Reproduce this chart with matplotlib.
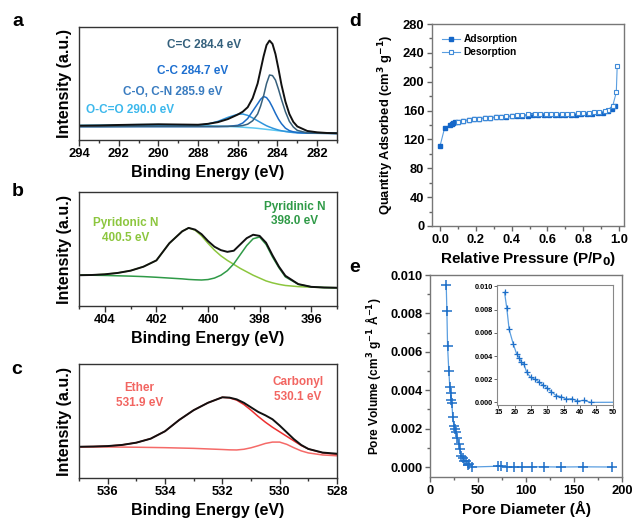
import numpy as np
import matplotlib
matplotlib.use("Agg")
import matplotlib.pyplot as plt
from matplotlib.ticker import MultipleLocator

plt.rcParams['font.family'] = ['Liberation Sans', 'DejaVu Sans']
plt.rcParams['font.weight'] = 'bold'
plt.rcParams['axes.labelweight'] = 'bold'
plt.rcParams['mathtext.default'] = 'bf'

# ---- C 1s (panel a) ----
e_c1s = [294, 293, 292, 291, 290, 289, 288, 287.5, 287, 286.5, 286, 285.75, 285.5,
         285.25, 285, 284.85, 284.7, 284.55, 284.4, 284.25, 284.1, 283.95, 283.8,
         283.6, 283.4, 283.2, 283, 282.5, 282, 281.5, 281]
c1s_total = [12.7, 12.9, 13.3, 13.6, 13.9, 13.7, 13.5, 14.3, 15.8, 18.5, 22.5, 25, 29,
             37, 50, 62, 74, 84, 88, 85, 76, 63, 49, 34, 23, 16, 12, 8, 6.8, 6.2, 6]
c1s_cc_sp2 = [11.8, 11.8, 11.9, 12, 12, 12, 12, 12, 12, 12.1, 12.3, 12.8, 14, 17, 23,
              30, 39, 50, 57.5, 57, 53, 45, 36, 25, 16.5, 11.5, 8.5, 6.3, 6, 5.9, 5.8]
c1s_cc_sp3 = [11.8, 11.8, 11.8, 11.8, 11.8, 11.8, 11.8, 11.8, 11.8, 12, 13, 15, 19,
              25.5, 32, 36, 38.5, 37.5, 34, 29, 23.5, 18.5, 14.5, 10.5, 8.3, 7.2, 6.6,
              6.1, 6, 5.9, 5.8]
c1s_co = [12.2, 12.3, 12.4, 12.5, 12.5, 12.5, 13, 14.2, 16.5, 20, 22.8, 23, 21.8, 19.5,
          17, 15.5, 14, 12.6, 11.5, 10.5, 9.6, 8.8, 8.2, 7.5, 7, 6.6, 6.3, 6, 5.9, 5.9, 5.8]
c1s_oco = [13, 13.2, 13.4, 13.6, 13.6, 13.4, 12.9, 12.6, 12.3, 12, 11.6, 11.3, 11, 10.7,
           10.3, 10, 9.7, 9.4, 9.1, 8.8, 8.5, 8.2, 8, 7.7, 7.4, 7.1, 6.9, 6.5, 6.2, 6, 5.9]

# ---- N 1s (panel b) ----
e_n1s = [405, 404.5, 404, 403.5, 403, 402.5, 402, 401.5, 401, 400.75, 400.5, 400.25,
         400, 399.75, 399.5, 399.25, 399, 398.75, 398.5, 398.25, 398, 397.75, 397.5,
         397.25, 397, 396.5, 396, 395.5, 395]
n1s_total = [27, 27.2, 27.8, 29, 31, 34.5, 40, 55, 65.5, 68.5, 67, 63, 57, 52, 49, 47.5,
             48.5, 54, 59.5, 62.5, 61.5, 55.5, 44.5, 34.5, 26.5, 19.2, 16.8, 16.2, 16]
n1s_pyridonic = [27, 27.2, 27.8, 29, 31, 34.5, 40, 55, 65.5, 68.5, 66.5, 61.5, 55, 49,
                 44, 40, 36.5, 33, 30, 27, 24.5, 22, 20.3, 19, 18, 17, 16.5, 16.2, 16]
n1s_pyridinic = [27, 27, 26.8, 26.5, 26.2, 25.8, 25.2, 24.5, 23.8, 23.3, 23, 22.8, 23.2,
                 24.5, 27, 31, 37, 45, 53, 59, 60.5, 54, 43, 33.5, 25.5, 19, 16.8, 16.2, 16]

# ---- O 1s (panel c) ----
e_o1s = [537, 536.5, 536, 535.5, 535, 534.5, 534, 533.5, 533, 532.5, 532, 531.75, 531.5,
         531.25, 531, 530.75, 530.5, 530.25, 530, 529.75, 529.5, 529.25, 529, 528.5, 528]
o1s_total = [27.4, 27.6, 28, 29, 31, 34.5, 41, 51, 59.5, 66, 70.8, 70.5, 69, 66, 62, 58,
             55, 51.5, 46, 40, 34, 29, 25.5, 22.3, 21.3]
o1s_ether = [27.4, 27.6, 28, 29, 31, 34.5, 41, 51, 59.5, 66, 70.8, 70.3, 68.3, 64.5, 59.5,
             54, 49, 44.5, 40.5, 36.5, 32.5, 28.5, 25.5, 22, 20.8]
o1s_carbonyl = [27.4, 27.3, 27.2, 27.1, 27, 26.8, 26.6, 26.3, 26, 25.5, 25, 24.7, 24.6,
                25.2, 26.5, 28.3, 30.3, 31.5, 31.5, 29.5, 26.5, 23.8, 22, 20.2, 19.5]

# ---- N2 isotherm (panel d) ----
p_ads = [0.0, 0.025, 0.055, 0.065, 0.075, 0.085, 0.1, 0.13, 0.16, 0.19, 0.22, 0.25, 0.28,
         0.31, 0.34, 0.37, 0.40, 0.43, 0.46, 0.49, 0.52, 0.55, 0.58, 0.61, 0.64, 0.67,
         0.70, 0.73, 0.76, 0.79, 0.82, 0.85, 0.88, 0.91, 0.94, 0.96, 0.975]
q_ads = [111, 135.5, 140, 141.5, 142.5, 143.5, 144.5, 146, 147, 148, 148.8, 149.5, 150,
         150.6, 151, 151.5, 152, 152.5, 152.8, 153, 153.3, 153.5, 153.7, 153.8, 154, 154,
         154.2, 154.3, 154.5, 154.8, 155, 155.5, 156, 157, 159, 162, 167]
p_des = [0.99, 0.985, 0.965, 0.94, 0.92, 0.89, 0.86, 0.83, 0.8, 0.77, 0.74, 0.71, 0.68,
         0.65, 0.62, 0.59, 0.56, 0.53, 0.49, 0.46, 0.43, 0.40, 0.37, 0.34, 0.31, 0.28,
         0.25, 0.22, 0.19, 0.16, 0.13, 0.10]
q_des = [222, 185.5, 166.5, 161, 159, 158, 157.5, 157, 156.5, 156, 155.8, 155.7, 155.6,
         155.5, 155.5, 155.5, 155.5, 155.3, 154.7, 154, 153.3, 152.7, 152.2, 151.6, 151,
         150.3, 149.6, 148.8, 147.8, 146.8, 145.5, 144]

# ---- pore size distribution (panel e) ----
pore_d = [16.9, 17.6, 18.3, 19.6, 20.6, 21.4, 22.0, 22.8, 23.7, 24.9, 26.1, 27.3, 28.6,
          30.0, 31.2, 32.7, 34.3, 35.8, 37.5, 39.2, 41.1, 43.3, 71, 74, 80, 87, 96, 106,
          119, 136, 159, 190]
pore_v = [0.0095, 0.0081, 0.0063, 0.0050, 0.00419, 0.00384, 0.00349, 0.00331, 0.00259,
          0.00215, 0.0020, 0.0018, 0.00151, 0.00122, 0.00093, 0.00058, 0.00049, 0.00029,
          0.00032, 0.00012, 0.00017, 0.0, 0.00004, 0.00003, 0.0, 0.0, 0.0, 0.00001,
          0.00001, 0.0, 0.00001, 0.0]

W, H = 633, 524
fig = plt.figure(figsize=(W / 100, H / 100), dpi=100)


def rect(l, t, r, b):
    return [l / W, 1 - b / H, (r - l) / W, (b - t) / H]


def xps_axes(r, xlim):
    ax = fig.add_axes(rect(*r))
    ax.set_xlim(*xlim)
    ax.set_ylim(0, 100)
    ax.set_yticks([])
    ax.xaxis.set_major_locator(MultipleLocator(2))
    ax.xaxis.set_minor_locator(MultipleLocator(1))
    ax.tick_params(axis='x', which='major', direction='out', length=4, width=1,
                   labelsize=9.3, pad=2, colors='#333333', labelcolor='black')
    ax.tick_params(axis='x', which='minor', direction='out', length=2.5, width=1,
                   colors='#333333')
    for s in ax.spines.values():
        s.set_color('#333333')
        s.set_linewidth(1)
    ax.set_xlabel('Binding Energy (eV)', fontsize=11.5, labelpad=3)
    ax.set_ylabel('Intensity (a.u.)', fontsize=11.5, labelpad=5)
    return ax


# panel a
ax = xps_axes((79, 27, 337, 140), (294, 281))
ax.plot(e_c1s, c1s_oco, color='#5cc8f2', lw=1.1)
ax.plot(e_c1s, c1s_co, color='#2f95dc', lw=1.1)
ax.plot(e_c1s, c1s_cc_sp3, color='#1c6cc6', lw=1.1)
ax.plot(e_c1s, c1s_cc_sp2, color='#37607c', lw=1.1)
ax.plot(e_c1s, c1s_total, color='#111111', lw=1.4)
ax.text(287.7, 83.7, 'C=C 284.4 eV', color='#34607c', fontsize=8.5, ha='center', va='center')
ax.text(288.25, 61.5, 'C-C 284.7 eV', color='#1d6fd0', fontsize=8.5, ha='center', va='center')
ax.text(289.26, 42.9, 'C-O, C-N 285.9 eV', color='#3a7cc0', fontsize=8.5, ha='center', va='center')
ax.text(291.43, 26.9, 'O-C=O 290.0 eV', color='#3cb8ec', fontsize=8.5, ha='center', va='center')

# panel b
ax = xps_axes((79, 192, 337, 306), (405, 395))
ax.plot(e_n1s, n1s_pyridonic, color='#8cc63e', lw=1.1)
ax.plot(e_n1s, n1s_pyridinic, color='#2f9a47', lw=1.1)
ax.plot(e_n1s, n1s_total, color='#111111', lw=1.4)
ax.text(403.2, 66.2, 'Pyridonic N\n400.5 eV', color='#8cc63e', fontsize=8.5,
        ha='center', va='center', linespacing=1.3)
ax.text(396.63, 80.7, 'Pyridinic N\n398.0 eV', color='#2f9a47', fontsize=8.5,
        ha='center', va='center', linespacing=1.3)

# panel c
ax = xps_axes((79, 364, 337, 478), (537, 528))
ax.plot(e_o1s, o1s_carbonyl, color='#f56a68', lw=1.1)
ax.plot(e_o1s, o1s_ether, color='#ec2f2f', lw=1.1)
ax.plot(e_o1s, o1s_total, color='#111111', lw=1.4)
ax.text(534.9, 72.1, 'Ether\n531.9 eV', color='#f26561', fontsize=8.5,
        ha='center', va='center', linespacing=1.3)
ax.text(529.36, 77.4, 'Carbonyl\n530.1 eV', color='#f26561', fontsize=8.5,
        ha='center', va='center', linespacing=1.3)

# panel d
ax = fig.add_axes(rect(432, 24, 624, 226))
ax.plot(p_ads, q_ads, color='#5a9ee0', lw=0.8, marker='s', ms=3.2,
        mfc='#1466c8', mec='#1466c8', label='Adsorption')
ax.plot(p_des, q_des, color='#5a9ee0', lw=0.8, marker='s', ms=3.2,
        mfc='white', mec='#3f8ad8', mew=0.8, label='Desorption')
ax.set_xlim(-0.045, 1.028)
ax.set_ylim(0, 280)
ax.xaxis.set_major_locator(MultipleLocator(0.2))
ax.xaxis.set_minor_locator(MultipleLocator(0.1))
ax.yaxis.set_major_locator(MultipleLocator(40))
ax.yaxis.set_minor_locator(MultipleLocator(20))
ax.set_xlabel('Relative Pressure (P/P$_0$)', fontsize=11, labelpad=3)
ax.set_ylabel('Quantity Adsorbed (cm$^3$ g$^{-1}$)', fontsize=9.3, labelpad=5)
ax.legend(loc='upper left', frameon=False, handlelength=1.8,
          handletextpad=0.3, borderaxespad=0.6, labelspacing=0.3,
          prop={'weight': 'bold', 'size': 7.3})

# panel e
ax = fig.add_axes(rect(430, 275, 622, 477))
ax.plot(pore_d, pore_v, color='#5a9ee0', lw=0.9, marker='+', ms=7, mew=1.1, mec='#1e6fc8')
ax.set_xlim(0, 200)
ax.set_ylim(-0.00052, 0.010)
ax.xaxis.set_major_locator(MultipleLocator(50))
ax.xaxis.set_minor_locator(MultipleLocator(25))
ax.yaxis.set_major_locator(MultipleLocator(0.002))
ax.yaxis.set_minor_locator(MultipleLocator(0.001))
ax.yaxis.set_major_formatter(matplotlib.ticker.FormatStrFormatter('%.3f'))
ax.set_xlabel('Pore Diameter (Å)', fontsize=11, labelpad=3)
ax.set_ylabel('Pore Volume (cm$^3$ g$^{-1}$ Å$^{-1}$)', fontsize=8.6, labelpad=5)

for a in fig.axes[3:]:
    a.tick_params(which='major', direction='out', length=3.5, width=1, labelsize=9.3,
                  pad=2, colors='#666666', labelcolor='black')
    a.tick_params(which='minor', direction='out', length=2, width=1, colors='#666666')
    for s in a.spines.values():
        s.set_color('#777777')
        s.set_linewidth(1)

# inset
ins = fig.add_axes(rect(496.7, 285.3, 612.7, 404.7))
ins.plot(pore_d, pore_v, color='#5a9ee0', lw=0.9, marker='+', ms=4, mew=0.9, mec='#1e6fc8')
ins.set_xlim(14.5, 50)
ins.set_ylim(-0.0002, 0.0101)
ins.xaxis.set_major_locator(MultipleLocator(5))
ins.yaxis.set_major_locator(MultipleLocator(0.002))
ins.yaxis.set_major_formatter(matplotlib.ticker.FormatStrFormatter('%.3f'))
ins.tick_params(which='major', direction='out', length=2, width=0.7, labelsize=5.3,
                pad=1, colors='#666666', labelcolor='black')
for s in ins.spines.values():
    s.set_color('#888888')
    s.set_linewidth(0.8)

# panel letters
for lab, x, y in [('a', 18, 22), ('b', 18, 191), ('c', 17, 370), ('d', 355, 21), ('e', 355, 268)]:
    fig.text(x / W, 1 - y / H, lab, fontsize=14, fontweight='bold', ha='center', va='center')

fig.savefig('out.png', dpi=100)
